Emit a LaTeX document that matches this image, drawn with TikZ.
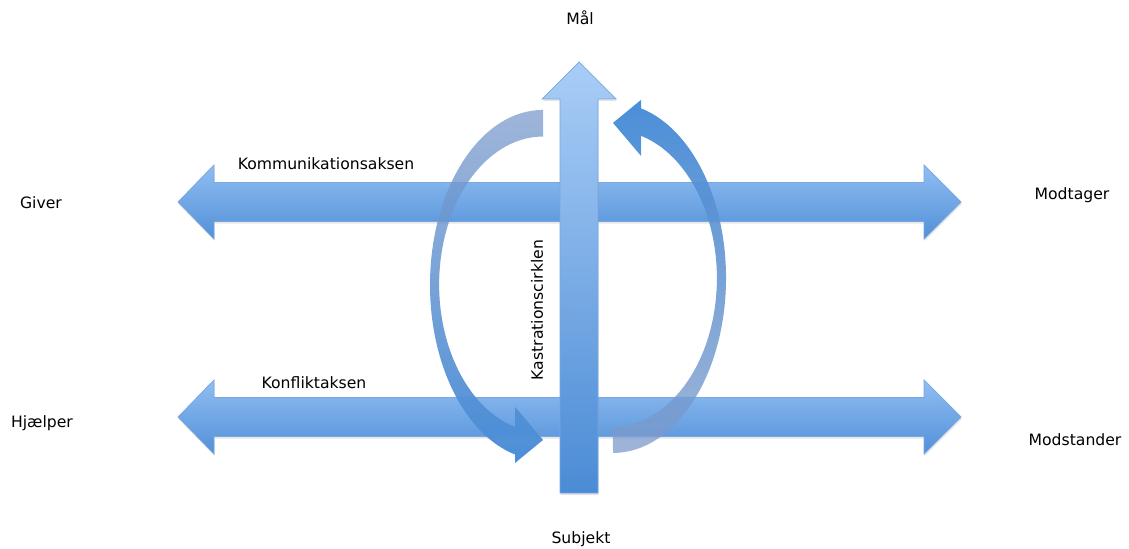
\documentclass[tikz,border=0pt]{standalone}
\usepackage{fontspec}
\setmainfont{DejaVu Sans}
\usetikzlibrary{fadings, shadows}
\definecolor{hojtop}{HTML}{90BEF2}
\definecolor{hojbund}{HTML}{5290D8}
\definecolor{lodtop}{HTML}{A9CDF6}
\definecolor{lodbund}{HTML}{4B8BD5}
\definecolor{kant}{HTML}{78A6E0}
\definecolor{kurvfuld}{HTML}{4A8ED8}
\definecolor{kurvmat}{HTML}{7E9CCB}
\tikzfading[name=fade op, top color=transparent!25, bottom color=transparent!0]
\tikzfading[name=fade ned, top color=transparent!0, bottom color=transparent!25]
\begin{document}
\begin{tikzpicture}[x=0.02cm, y=0.02cm, font=\fontsize{8.9}{10}\selectfont]
    \tikzstyle{aksepil}=[draw=kant, line width=0.4pt, top color=hojtop, bottom color=hojbund,
        drop shadow={opacity=0.2, shadow xshift=0.4pt, shadow yshift=-1.2pt}]
    \tikzstyle{lodpil}=[aksepil, top color=lodtop, bottom color=lodbund]
    \tikzstyle{txt}=[inner sep=1pt, text=black]

    \useasboundingbox (0,0) rectangle (1129,548);

    % kommunikationsaksen
    \path[aksepil] (178,346) -- (214,383) -- (214,365.5) -- (924,365.5) -- (924,383)
        -- (961,346) -- (924,309) -- (924,326.5) -- (214,326.5) -- (214,309) -- cycle;
    % konfliktaksen
    \path[aksepil] (178,131) -- (214,168) -- (214,150.5) -- (924,150.5) -- (924,168)
        -- (961,131) -- (924,94) -- (924,111.5) -- (214,111.5) -- (214,94) -- cycle;
    % subjekt -> maal
    \path[lodpil] (560,55) -- (560,449) -- (542,449) -- (579,486) -- (616,449)
        -- (598,449) -- (598,55) -- cycle;

    % kastrationscirklen, venstre halvdel
    \shade[top color=kurvmat, bottom color=kurvfuld, path fading=fade op]
        (543,438) arc[start angle=90, end angle=255.65, x radius=113, y radius=175]
        -- (515,85) -- (543,108) -- (515,141) -- (515,120.9)
        arc[start angle=254.3, end angle=90, x radius=104, y radius=148] -- cycle;
    % kastrationscirklen, hoejre halvdel
    \shade[top color=kurvfuld, bottom color=kurvmat, path fading=fade ned]
        (613,95) arc[start angle=270, end angle=435.65, x radius=113, y radius=175]
        -- (641,448) -- (613,425) -- (641,392) -- (641,412.1)
        arc[start angle=434.3, end angle=270, x radius=104, y radius=148] -- cycle;

    \node[txt] (maal) at (580,530) {Mål};
    \node[txt] (subjekt) at (581,9) {Subjekt};
    \node[txt] (giver) at (41,345) {Giver};
    \node[txt] (hjaelper) at (42,125) {Hjælper};
    \node[txt] (modtager) at (1072,353) {Modtager};
    \node[txt] (modstander) at (1075,108) {Modstander};
    \node[txt] (kommunikation) at (326,384) {Kommunikationsaksen};
    \node[txt] (konflikt) at (314,165) {Konfliktaksen};
    \node[txt, rotate=90] (kastration) at (537,238) {Kastrationscirklen};
\end{tikzpicture}
\end{document}
